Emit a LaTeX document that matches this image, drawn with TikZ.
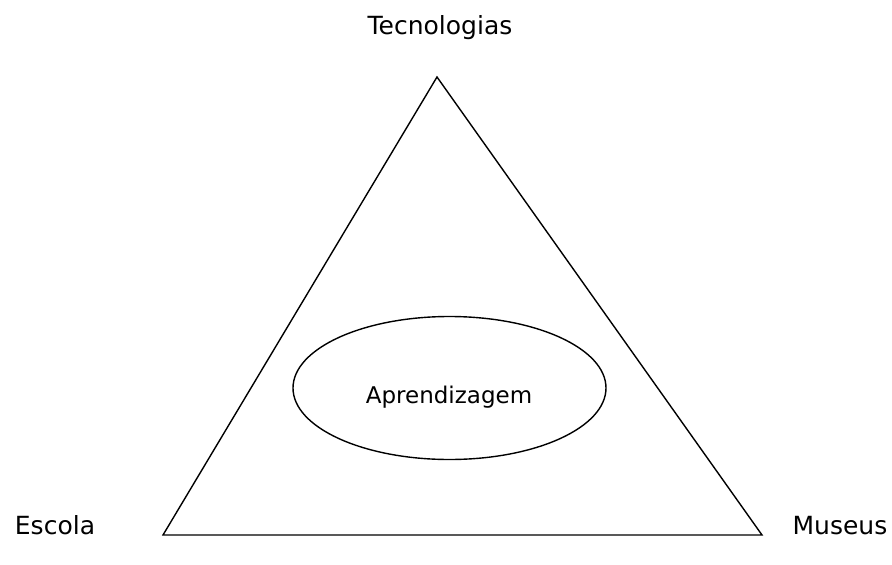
\documentclass[tikz,border=0pt]{standalone}
\usepackage{fontspec}
\setmainfont{DejaVu Sans}
\usetikzlibrary{shapes.geometric}
\begin{document}
\begin{tikzpicture}[x=1pt,y=-1pt,
  lbl/.style={font=\fontsize{25}{30}\selectfont, inner sep=0pt, anchor=base},
  edge/.style={draw=black, line width=1.4pt, line join=miter},
  bubble/.style={ellipse, draw=black, line width=1.4pt, minimum width=313pt, minimum height=143pt, inner sep=0pt, font=\fontsize{23}{28}\selectfont}]
\useasboundingbox[fill=white] (0,0) rectangle (892,565);
\coordinate (top) at (437,77);
\coordinate (bl) at (163,535);
\coordinate (br) at (762,535);
\draw[edge] (top) -- (bl) -- (br) -- cycle;
\node[bubble] (apr) at (449.5,388) {};
\node[font=\fontsize{23}{28}\selectfont, inner sep=0pt, anchor=base] (aprt) at (449,403) {Aprendizagem};
\node[lbl] (tec) at (440,34) {Tecnologias};
\node[lbl] (esc) at (55,534) {Escola};
\node[lbl] (mus) at (840,534) {Museus};
\end{tikzpicture}
\end{document}
